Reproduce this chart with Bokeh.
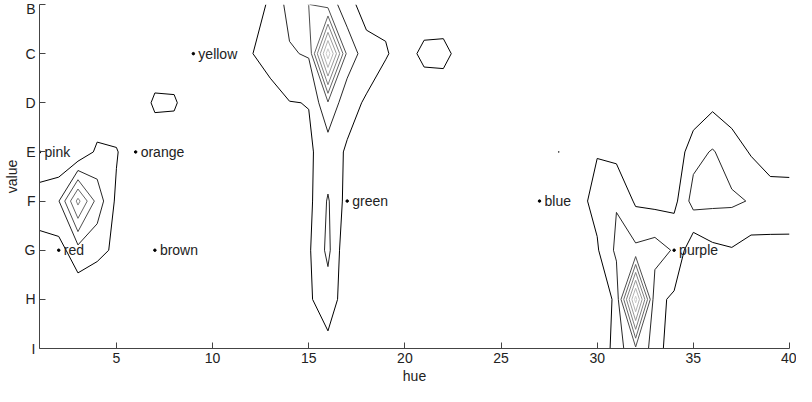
import numpy as np
from bokeh.plotting import figure
from bokeh.models import Range1d, FixedTicker, ColumnDataSource
from bokeh.embed import file_html
from bokeh.resources import INLINE
from bokeh.core.properties import value

# ---- data -----------------------------------------------------------------
hues = list(range(1, 41))
value_names = ["B", "C", "D", "E", "F", "G", "H", "I"]
value_pos = [1, 2, 3, 4, 5, 6, 7, 8]

# estimated naming density per (value row, hue column)
row_B = [0, 0, 0, 0, 0, 0, 0, 0, 0, 0, 0, 0, 1.3, 2.3, 3.02, 2.6, 1.4, 0.51, 0.7, 0.2,
         0.2, 0.2, 0, 0, 0, 0, 0, 0, 0, 0, 0, 0, 0, 0, 0, 0, 0, 0, 0, 0]
row_C = [0, 0, 0, 0, 0, 0, 0, 0, 0, 0, 0, 0.9, 1.9, 1.9, 2.1, 8.6, 2.7, 1.45, 1.1, 0.5,
         1.3, 1.35, 0.5, 0, 0, 0, 0, 0, 0, 0, 0, 0, 0, 0, 0, 0, 0, 0, 0, 0]
row_D = [0, 0, 0, 0, 0, 0, 1.25, 1.2, 0, 0, 0, 0, 0.1, 0.97, 1.02, 2.9, 1.3, 0.9, 0.3, 0,
         0.2, 0.2, 0, 0, 0, 0, 0, 0, 0, 0, 0, 0, 0, 0, 0.16, 0.76, 0.45, 0.3, 0, 0]
row_E = [0, 0, 0, 1.25, 1.1, 0, 0, 0, 0, 0, 0, 0, 0, 0.5, 0.87, 1.4, 0.9, 0.3, 0, 0,
         0, 0, 0, 0, 0, 0, 0, 1.01, 0.2, 0.96, 0.7, 0.3, 0.2, 0.16, 1.66, 2.08, 1.5, 0.91, 0.2, 0.2]
row_F = [1.61, 1.95, 5.3, 2.6, 0.8, 0, 0, 0, 0, 0, 0, 0, 0, 0.3, 0.725, 2.1, 0.63, 0.2, 0, 0,
         0, 0, 0, 0, 0, 0, 0, 0, 0.74, 1.26, 1.94, 0.85, 0.7, 0.7, 2.4, 2.22, 2.16, 1.94, 1.8, 1.74]
row_G = [0.59, 0.63, 1.6, 1.3, 0.8, 0, 0, 0, 0, 0, 0, 0, 0, 0, 0.86, 2.25, 0.17, 0, 0, 0,
         0, 0, 0, 0, 0, 0, 0, 0, 0.2, 0.9, 2.2, 2.2, 2.46, 1.9, 0.2, 0.77, 0.93, 0.58, 0.62, 0.64]
row_H = [0, 0, 0.3, 0, 0, 0, 0, 0, 0, 0, 0, 0, 0, 0, 0.875, 1.5, 0.5, 0, 0, 0,
         0, 0, 0, 0, 0, 0, 0, 0, 0, 0, 1.3, 8.4, 1.3, 0.81, 0.2, 0, 0, 0, 0, 0]
row_I = [0, 0, 0, 0, 0, 0, 0, 0, 0, 0, 0, 0, 0, 0, 0.4, 0.72, 0.4, 0, 0, 0,
         0, 0, 0, 0, 0, 0, 0, 0, 0, 0, 1.49, 2.83, 1.59, 0.25, 0, 0, 0, 0, 0, 0]

levels = [1, 2, 3, 4, 5, 6, 7, 8]
level_colors = ["#000000", "#262626", "#4d4d4d", "#666666",
                "#808080", "#999999", "#b3b3b3", "#cccccc"]

label_names = ["pink", "orange", "yellow", "red", "brown", "green", "blue", "purple"]
label_hue = [1, 6, 9, 2, 7, 17, 27, 34]
label_value = [4, 4, 2, 6, 6, 5, 5, 6]

x_ticks = [5, 10, 15, 20, 25, 30, 35, 40]

# ---- figure ---------------------------------------------------------------
z = np.array([row_B, row_C, row_D, row_E, row_F, row_G, row_H, row_I], dtype=float)

FONT = "Liberation Sans"

p = figure(width=796, height=386, output_backend="svg", toolbar_location=None,
           x_range=Range1d(1, 40), y_range=Range1d(8, 1),
           min_border_left=33, min_border_right=7, min_border_top=4,
           min_border_bottom=0)
p.outline_line_color = None
p.xgrid.visible = False
p.ygrid.visible = False
p.background_fill_color = "white"
p.border_fill_color = "white"

p.contour(x=hues, y=value_pos, z=z, levels=levels,
          line_color=level_colors, line_width=1)

src = ColumnDataSource(dict(x=label_hue, y=label_value, name=label_names))
p.scatter(x="x", y="y", source=src, size=2.5, color="black", marker="circle")
p.text(x="x", y="y", text="name", source=src, x_offset=5,
       text_baseline="middle", text_align="left",
       text_font=value(FONT), text_font_size=value("14px"), text_color="#222222")

for ax in (p.xaxis[0], p.yaxis[0]):
    ax.major_tick_in = 6
    ax.major_tick_out = 0
    ax.minor_tick_line_color = None
    ax.axis_line_color = "#444444"
    ax.major_tick_line_color = "#444444"
    ax.major_label_text_font = FONT
    ax.major_label_text_font_size = "14px"
    ax.major_label_text_color = "#222222"
    ax.axis_label_text_font = FONT
    ax.axis_label_text_font_size = "14px"
    ax.axis_label_text_font_style = "normal"
    ax.axis_label_text_color = "#222222"
    ax.major_label_standoff = 4
    ax.axis_label_standoff = 2

p.xaxis.ticker = FixedTicker(ticks=x_ticks)
p.yaxis.ticker = FixedTicker(ticks=value_pos)
p.yaxis.major_label_overrides = {v: n for v, n in zip(value_pos, value_names)}
p.xaxis.axis_label = "hue"
p.yaxis.axis_label = "value"

open("out.html", "w").write(file_html(p, INLINE))
